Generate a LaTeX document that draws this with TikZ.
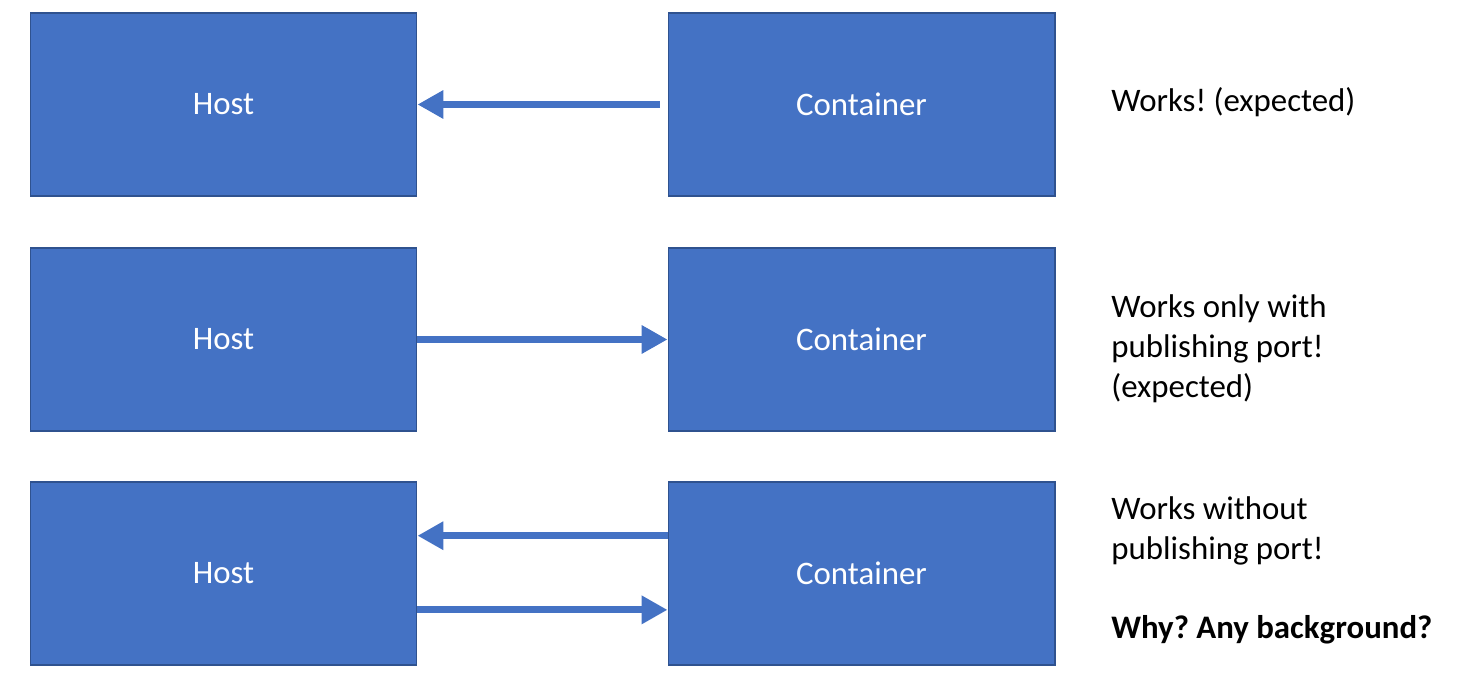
\documentclass[tikz,border=0pt]{standalone}
\usepackage{fontspec}
\setmainfont{Carlito}
\frenchspacing
\usetikzlibrary{arrows.meta}
\definecolor{boxblue}{HTML}{4472C4}
\definecolor{boxline}{HTML}{2F528F}
\tikzset{
  box/.style={draw=boxline, line width=0.6pt, fill=boxblue, text=white,
    minimum width=7.74cm, minimum height=3.66cm, inner sep=0pt,
    font=\fontsize{18.7}{22.8}\selectfont},
  flow/.style={boxblue, line width=4pt, -{Triangle[length=14.7pt, width=15.3pt]}},
  note/.style={anchor=west, align=left, inner sep=0pt,
    font=\fontsize{18.7}{22.8}\selectfont}
}
\begin{document}
\begin{tikzpicture}[x=0.02cm, y=-0.02cm]
  \useasboundingbox (0,0) rectangle (1467,688);
  % Zeile 1
  \node[box] (h1) at (223.5,104.5) {Host};
  \node[box] (c1) at (861.5,104.5) {Container};
  \coordinate (c1s) at ([xshift=-4.5pt]c1.west);
  \draw[flow] (c1s) -- (h1.east);
  \node[note] (t1) at (1111,102) {Works! (expected)};
  
  % Zeile 2
  \node[box] (h2) at (223.5,339.5) {Host};
  \node[box] (c2) at (861.5,339.5) {Container};
  \draw[flow] (h2.east) -- (c2.west);
  \node[note] (t2) at (1111,349) {Works only with\\publishing port!\\(expected)};
  
  % Zeile 3
  \node[box] (h3) at (223.5,573.5) {Host};
  \node[box] (c3) at (861.5,573.5) {Container};
  \draw[flow] ([yshift=21.5pt]c3.west) -- ([yshift=21.5pt]h3.east);
  \draw[flow] ([yshift=-20.7pt]h3.east) -- ([yshift=-20.7pt]c3.west);
  \node[note] (t3) at (1111,531) {Works without\\publishing port!};
  \node[note, font=\fontsize{18.7}{22.8}\selectfont\bfseries] (t4) at (1111,630) {Why? Any background?};
\end{tikzpicture}
\end{document}
